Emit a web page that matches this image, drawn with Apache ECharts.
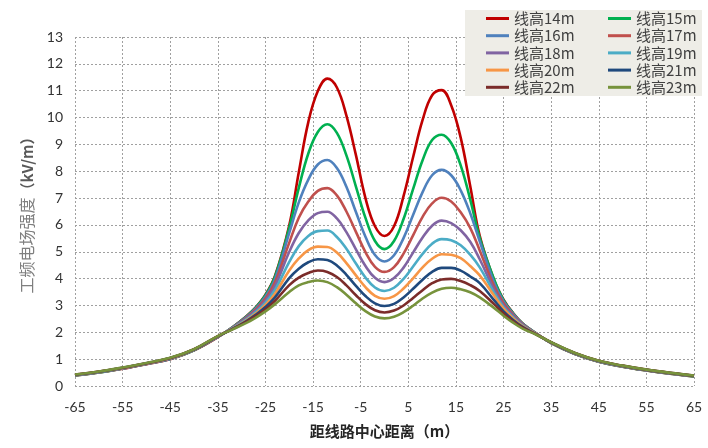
<!DOCTYPE html>
<html><head><meta charset="utf-8">
<script src="https://cdn.jsdelivr.net/npm/echarts@6/dist/echarts.min.js"></script>
<style>html,body{margin:0;padding:0;background:#fff}#c{width:708px;height:448px}</style>
</head><body><div id="c"></div>
<script>
// distance from line centre (m)
const xs = [-65,-60,-55,-50,-45,-40,-35,-32,-29,-27,-25,-23,-20,-18,-16,-14,-12,-10,-8,-6,-4,-2,0,2,4,6,8,10,12,14,16,18,20,23,25,27,29,32,35,40,45,50,55,60,65];
const seriesNames = ['线高14m','线高15m','线高16m','线高17m','线高18m','线高19m','线高20m','线高21m','线高22m','线高23m'];
const h14 = [0.39,0.50,0.64,0.81,1.00,1.33,1.82,2.18,2.60,2.94,3.40,4.10,5.99,7.96,9.83,10.99,11.45,11.12,10.07,8.60,7.00,5.95,5.59,5.95,7.07,8.52,9.91,10.83,11.02,10.46,9.25,7.45,5.59,3.95,3.22,2.72,2.33,1.94,1.60,1.19,0.90,0.72,0.58,0.46,0.36];
const h15 = [0.39,0.50,0.65,0.82,1.01,1.33,1.83,2.18,2.59,2.93,3.38,4.07,5.90,7.38,8.66,9.46,9.75,9.43,8.59,7.43,6.26,5.40,5.10,5.40,6.22,7.33,8.41,9.16,9.36,9.05,8.22,6.95,5.52,3.98,3.20,2.71,2.33,1.94,1.60,1.19,0.90,0.72,0.58,0.46,0.36];
const h16 = [0.40,0.51,0.65,0.82,1.01,1.34,1.83,2.17,2.57,2.90,3.33,3.98,5.70,6.84,7.69,8.25,8.42,8.12,7.42,6.48,5.56,4.88,4.64,4.87,5.51,6.37,7.22,7.85,8.05,7.85,7.29,6.44,5.39,3.86,3.15,2.69,2.32,1.94,1.61,1.20,0.91,0.73,0.59,0.47,0.37];
const h17 = [0.40,0.51,0.66,0.83,1.02,1.34,1.83,2.16,2.54,2.86,3.26,3.86,5.34,6.27,6.87,7.27,7.37,7.10,6.50,5.74,4.99,4.44,4.25,4.43,4.93,5.61,6.30,6.80,7.01,6.87,6.47,5.89,5.05,3.72,3.08,2.65,2.30,1.93,1.61,1.20,0.91,0.73,0.59,0.47,0.37];
const h18 = [0.41,0.52,0.66,0.83,1.02,1.35,1.84,2.15,2.51,2.81,3.18,3.72,5.00,5.70,6.17,6.44,6.49,6.24,5.73,5.09,4.47,4.03,3.87,4.02,4.41,4.97,5.53,5.97,6.16,6.07,5.80,5.37,4.72,3.60,3.00,2.61,2.28,1.93,1.61,1.21,0.92,0.74,0.59,0.47,0.37];
const h19 = [0.41,0.52,0.67,0.84,1.03,1.35,1.84,2.14,2.48,2.76,3.10,3.58,4.62,5.21,5.59,5.77,5.79,5.55,5.11,4.56,4.04,3.67,3.54,3.66,3.99,4.45,4.92,5.30,5.47,5.43,5.24,4.89,4.42,3.48,2.93,2.56,2.25,1.92,1.62,1.21,0.92,0.74,0.60,0.48,0.38];
const h20 = [0.42,0.53,0.67,0.84,1.03,1.36,1.85,2.13,2.45,2.71,3.02,3.44,4.30,4.75,5.06,5.19,5.18,4.97,4.58,4.12,3.68,3.36,3.25,3.35,3.63,4.01,4.42,4.74,4.91,4.89,4.76,4.47,4.12,3.37,2.88,2.52,2.23,1.92,1.62,1.22,0.93,0.75,0.60,0.48,0.38];
const h21 = [0.42,0.53,0.68,0.85,1.04,1.36,1.85,2.12,2.42,2.66,2.94,3.30,4.02,4.37,4.61,4.72,4.69,4.49,4.14,3.73,3.35,3.08,2.98,3.06,3.30,3.62,3.96,4.25,4.40,4.40,4.30,4.08,3.83,3.20,2.78,2.46,2.20,1.91,1.62,1.22,0.93,0.75,0.60,0.48,0.38];
const h22 = [0.43,0.54,0.68,0.85,1.04,1.37,1.86,2.11,2.39,2.61,2.86,3.17,3.76,4.04,4.21,4.30,4.25,4.06,3.75,3.38,3.05,2.82,2.74,2.81,3.00,3.28,3.57,3.83,3.97,3.99,3.91,3.76,3.54,3.05,2.70,2.41,2.17,1.91,1.63,1.23,0.94,0.76,0.61,0.49,0.39];
const h23 = [0.43,0.54,0.69,0.86,1.05,1.37,1.86,2.10,2.35,2.55,2.78,3.05,3.50,3.75,3.87,3.93,3.87,3.68,3.40,3.08,2.79,2.59,2.52,2.58,2.75,2.99,3.26,3.48,3.62,3.66,3.60,3.49,3.30,2.91,2.62,2.36,2.14,1.90,1.63,1.23,0.94,0.76,0.61,0.49,0.39];
const seriesValues = [h14,h15,h16,h17,h18,h19,h20,h21,h22,h23];
const colors = ['#C00000','#00B050','#4F81BD','#C0504D','#8064A2','#4BACC6','#F79646','#1F497D','#7B2C2A','#77933C'];

const chart = echarts.init(document.getElementById('c'), null, {renderer:'canvas'});
const cjk = '"Noto Sans CJK SC", sans-serif';
const num = 'Lato, "Noto Sans", sans-serif';
const legendText = {fontFamily: cjk, fontSize: 15, color: '#404040'};
chart.setOption({
  animation: false,
  backgroundColor: '#fff',
  color: colors,
  grid: {left: 75, right: 14, top: 37, bottom: 62, containLabel: false},
  xAxis: {
    type: 'value', min: -65, max: 65, interval: 10,
    name: '距线路中心距离（m）', nameLocation: 'middle', nameGap: 38,
    nameTextStyle: {fontFamily: cjk, fontSize: 15, color: '#262626', fontWeight: 'bold'},
    axisLine: {show: false}, axisTick: {show: false},
    axisLabel: {fontFamily: num, fontSize: 14, color: '#333', margin: 14},
    splitLine: {show: true, lineStyle: {color: '#A0A0A0', type: [2,2], width: 1}}
  },
  yAxis: {
    type: 'value', min: 0, max: 13, interval: 1,
    name: '{a|工频电场强度}{b|（kV/m）}', nameLocation: 'middle', nameGap: 40, nameRotate: 90,
    nameTextStyle: {rich: {
      a: {fontFamily: cjk, fontSize: 16, color: '#7F7F7F'},
      b: {fontFamily: cjk, fontSize: 15, color: '#595959', fontWeight: 'bold'}
    }},
    axisLine: {show: false}, axisTick: {show: false},
    axisLabel: {fontFamily: num, fontSize: 14, color: '#333', margin: 12},
    splitLine: {show: true, lineStyle: {color: '#A0A0A0', type: [2,2], width: 1}}
  },
  graphic: [{
    type: 'rect', z: 50, shape: {x: 465, y: 10, width: 237, height: 86},
    style: {fill: '#EEEDE7'}
  }],
  legend: [
    {data: [seriesNames[0],seriesNames[2],seriesNames[4],seriesNames[6],seriesNames[8]],
     orient: 'vertical', left: 486, top: 11, padding: 0, itemGap: 2.2, itemWidth: 23, itemHeight: 3,
     icon: 'rect', textStyle: legendText, z: 60},
    {data: [seriesNames[1],seriesNames[3],seriesNames[5],seriesNames[7],seriesNames[9]],
     orient: 'vertical', left: 608, top: 11, padding: 0, itemGap: 2.2, itemWidth: 23, itemHeight: 3,
     icon: 'rect', textStyle: legendText, z: 60}
  ],
  series: seriesNames.map((n, k) => ({
    name: n, type: 'line', smooth: 0.4, showSymbol: false, symbol: 'none',
    lineStyle: {width: 2.6, color: colors[k]},
    data: xs.map((x, i) => [x, seriesValues[k][i]])
  }))
});
</script></body></html>
